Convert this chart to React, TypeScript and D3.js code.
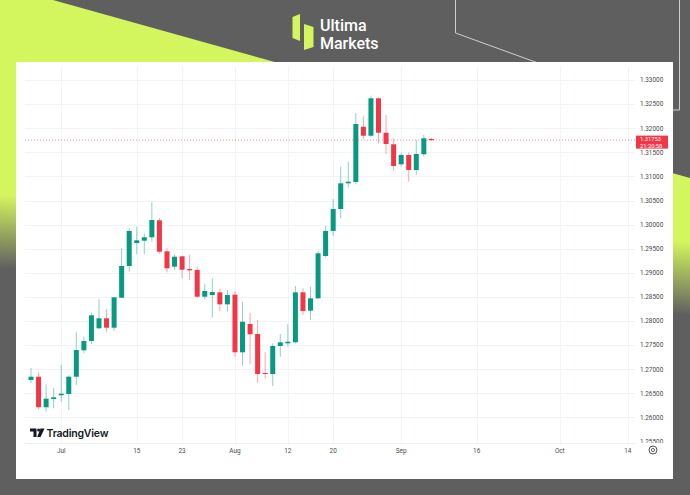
import { useEffect, useRef } from 'react';
import * as d3 from 'd3';

// GBP/USD daily candles, one per trading day
const candleDates = [
  'Jun 25', 'Jun 26', 'Jun 27', 'Jun 28',
  'Jul 1', 'Jul 2', 'Jul 3', 'Jul 4', 'Jul 5', 'Jul 8', 'Jul 9', 'Jul 10', 'Jul 11', 'Jul 12',
  'Jul 15', 'Jul 16', 'Jul 17', 'Jul 18', 'Jul 19', 'Jul 22', 'Jul 23', 'Jul 24', 'Jul 25', 'Jul 26',
  'Jul 29', 'Jul 30', 'Jul 31',
  'Aug 1', 'Aug 2', 'Aug 5', 'Aug 6', 'Aug 7', 'Aug 8', 'Aug 9', 'Aug 12', 'Aug 13', 'Aug 14',
  'Aug 15', 'Aug 16', 'Aug 19', 'Aug 20', 'Aug 21', 'Aug 22', 'Aug 23', 'Aug 26', 'Aug 27', 'Aug 28',
  'Aug 29', 'Aug 30',
  'Sep 2', 'Sep 3', 'Sep 4', 'Sep 5', 'Sep 6',
];

const openValues = [
  1.26776, 1.26844, 1.26210, 1.26382, 1.26459, 1.26485, 1.26844, 1.27392, 1.27585, 1.27849,
  1.28056, 1.27861, 1.28483, 1.29141, 1.29618, 1.29666, 1.29737, 1.30089, 1.29446, 1.29127,
  1.29342, 1.29079, 1.29058, 1.28504, 1.28539, 1.28595, 1.28346, 1.28546, 1.27351, 1.27938,
  1.27730, 1.26921, 1.26900, 1.27481, 1.27537, 1.27558, 1.28595, 1.28214, 1.28471, 1.29349,
  1.29867, 1.30324, 1.30857, 1.30884, 1.32031, 1.31844, 1.32620, 1.31906, 1.31666, 1.31251,
  1.31444, 1.31133, 1.31459, 1.31776,
];

const highValues = [
  1.27025, 1.26927, 1.26687, 1.26610, 1.27093, 1.26873, 1.27766, 1.27674, 1.28172, 1.28456,
  1.28249, 1.28504, 1.29508, 1.29923, 1.29956, 1.29820, 1.30463, 1.30131, 1.29508, 1.29384,
  1.29355, 1.29369, 1.29127, 1.28774, 1.28886, 1.28664, 1.28643, 1.28622, 1.28400, 1.28172,
  1.28021, 1.27351, 1.27537, 1.27730, 1.27938, 1.28726, 1.28678, 1.28712, 1.29459, 1.29977,
  1.30531, 1.31201, 1.31305, 1.32309, 1.32239, 1.32674, 1.32647, 1.32274, 1.31790, 1.31492,
  1.31492, 1.31755, 1.31859, 1.31803,
];

const lowValues = [
  1.26714, 1.26168, 1.26118, 1.26189, 1.26326, 1.26154, 1.26672, 1.27330, 1.27523, 1.27828,
  1.27778, 1.27793, 1.28471, 1.29023, 1.29384, 1.29384, 1.29645, 1.29396, 1.29010, 1.29058,
  1.28886, 1.28851, 1.28483, 1.28456, 1.28068, 1.28208, 1.28193, 1.27259, 1.27073, 1.27102,
  1.26720, 1.26811, 1.26651, 1.27259, 1.27467, 1.27537, 1.28124, 1.28021, 1.28450, 1.29322,
  1.29763, 1.30131, 1.30774, 1.30836, 1.31770, 1.31811, 1.31687, 1.31465, 1.31118, 1.31201,
  1.30890, 1.31029, 1.31409, 1.31728,
];

const closeValues = [
  1.26844, 1.26210, 1.26388, 1.26417, 1.26492, 1.26844, 1.27398, 1.27585, 1.28118, 1.28056,
  1.27861, 1.28492, 1.29141, 1.29867, 1.29674, 1.29737, 1.30095, 1.29438, 1.29093, 1.29334,
  1.29064, 1.29052, 1.28504, 1.28622, 1.28602, 1.28346, 1.28539, 1.27351, 1.27985, 1.27724,
  1.26900, 1.26900, 1.27481, 1.27558, 1.27571, 1.28595, 1.28208, 1.28471, 1.29405, 1.29867,
  1.30324, 1.30857, 1.30890, 1.32087, 1.31844, 1.32620, 1.31906, 1.31672, 1.31216, 1.31444,
  1.31133, 1.31465, 1.31790, 1.31753,
];

const priceTicks = [
  1.255, 1.26, 1.265, 1.27, 1.275, 1.28, 1.285, 1.29, 1.295, 1.3, 1.305, 1.31, 1.315, 1.32, 1.325, 1.33,
];

// time axis: label and trading-day slot (0 = first candle)
const timeTickLabels = ['Jul', '15', '23', 'Aug', '12', '20', 'Sep', '16', 'Oct', '14'];
const timeTickSlots = [4, 14, 20, 27, 34, 40, 49, 59, 70, 79];

const lastPrice = 1.31753;
const countdown = '21:20:58';

const UP = '#089981';
const DOWN = '#F23645';
const LIME = '#d3f55e';
const BG = '#5f5f5f';

export default function App() {
  const svgRef = useRef<SVGSVGElement>(null);

  useEffect(() => {
    if (!svgRef.current) return;
    const svg = d3.select(svgRef.current);
    svg.selectAll('*').remove();

    const width = 690;
    const height = 495;
    const panel = { left: 16, top: 62, right: 673, bottom: 479 };
    const plot = { left: 25, right: 635, top: 66, bottom: 443 };

    const x = d3.scaleLinear().domain([0, 79]).range([31, 627.8]);
    const y = d3.scaleLinear().domain([1.255, 1.33]).range([441.5, 80]);

    // background
    const defs = svg.append('defs');
    const grad = defs.append('linearGradient')
      .attr('id', 'limeFade')
      .attr('gradientUnits', 'userSpaceOnUse')
      .attr('x1', 0).attr('y1', 195)
      .attr('x2', -5).attr('y2', 268);
    grad.append('stop').attr('offset', 0).attr('stop-color', LIME);
    grad.append('stop').attr('offset', 1).attr('stop-color', BG);

    svg.append('rect').attr('width', width).attr('height', height).attr('fill', BG);
    svg.append('path')
      .attr('d', 'M0,0 L53,0 L690,178 L690,495 L0,495 Z')
      .attr('fill', 'url(#limeFade)');

    // thin outline strokes top-right
    const outline = svg.append('g').attr('fill', 'none').attr('stroke', '#cfcfcf').attr('stroke-width', 1);
    outline.append('path').attr('d', 'M455.5,0 L455.5,33 L560,71');
    outline.append('path').attr('d', 'M679.5,0 L679.5,110 L668,110');

    // brand logo
    const logo = svg.append('g');
    logo.append('path').attr('d', 'M292.5,17 L300,14 L300,41 L292.5,38 Z').attr('fill', LIME);
    logo.append('path').attr('d', 'M304,24 L313.5,27 L313.5,47 L304,50 Z').attr('fill', LIME);
    logo.append('text')
      .attr('x', 320).attr('y', 30.5)
      .attr('font-family', 'Roboto, Inter, sans-serif')
      .attr('font-size', 16).attr('font-weight', 500)
      .attr('fill', '#ffffff')
      .text('Ultima');
    logo.append('text')
      .attr('x', 320).attr('y', 48.5)
      .attr('font-family', 'Roboto, Inter, sans-serif')
      .attr('font-size', 16).attr('font-weight', 500)
      .attr('fill', '#ffffff')
      .text('Markets');

    // white chart panel
    svg.append('rect')
      .attr('x', panel.left).attr('y', panel.top)
      .attr('width', panel.right - panel.left)
      .attr('height', panel.bottom - panel.top)
      .attr('fill', '#ffffff');

    // grid
    const grid = svg.append('g').attr('stroke', '#f0f3fa').attr('stroke-width', 1);
    grid.selectAll('.hg')
      .data(priceTicks.filter(p => p > 1.256))
      .enter()
      .append('line')
      .attr('x1', plot.left).attr('x2', plot.right)
      .attr('y1', d => Math.round(y(d)) + 0.5)
      .attr('y2', d => Math.round(y(d)) + 0.5);
    grid.selectAll('.vg')
      .data(timeTickSlots)
      .enter()
      .append('line')
      .attr('y1', plot.top).attr('y2', plot.bottom)
      .attr('x1', d => Math.round(x(d)) + 0.5)
      .attr('x2', d => Math.round(x(d)) + 0.5);
    svg.append('line')
      .attr('x1', plot.left).attr('x2', plot.right)
      .attr('y1', plot.bottom + 0.5).attr('y2', plot.bottom + 0.5)
      .attr('stroke', '#eceff5');

    // last price line
    svg.append('line')
      .attr('x1', plot.left).attr('x2', 636)
      .attr('y1', y(lastPrice)).attr('y2', y(lastPrice))
      .attr('stroke', DOWN).attr('stroke-opacity', 0.55)
      .attr('stroke-dasharray', '1,2');

    // candles
    const candles = svg.append('g')
      .selectAll('g')
      .data(candleDates.map((d, i) => ({
        date: d, i,
        o: openValues[i], h: highValues[i], l: lowValues[i], c: closeValues[i],
      })))
      .enter()
      .append('g');

    const bodyW = 5;
    candles.append('line')
      .attr('x1', d => x(d.i)).attr('x2', d => x(d.i))
      .attr('y1', d => y(d.h)).attr('y2', d => y(d.l))
      .attr('stroke', d => (d.c >= d.o ? UP : DOWN))
      .attr('stroke-opacity', 0.45)
      .attr('stroke-width', 1);
    candles.append('rect')
      .attr('x', d => x(d.i) - bodyW / 2)
      .attr('width', bodyW)
      .attr('y', d => y(Math.max(d.o, d.c)))
      .attr('height', d => Math.max(1, Math.abs(y(d.o) - y(d.c))))
      .attr('fill', d => (d.c >= d.o ? UP : DOWN));

    // price axis labels (clipped at plot bottom)
    defs.append('clipPath').attr('id', 'axisClip')
      .append('rect').attr('x', 630).attr('y', plot.top).attr('width', 43).attr('height', plot.bottom - plot.top);
    svg.append('g')
      .attr('clip-path', 'url(#axisClip)')
      .selectAll('text')
      .data(priceTicks)
      .enter()
      .append('text')
      .attr('x', 640)
      .attr('y', d => y(d) + 2.3)
      .attr('font-family', 'Roboto, sans-serif')
      .attr('font-size', 6.4)
      .attr('fill', '#4a4a4a')
      .text(d => d3.format('.5f')(d));

    // last price tag
    const tagY = y(lastPrice);
    svg.append('rect')
      .attr('x', 636).attr('y', tagY - 4.5)
      .attr('width', 32).attr('height', 13)
      .attr('fill', DOWN);
    svg.append('text')
      .attr('x', 640).attr('y', tagY + 1.0)
      .attr('font-family', 'Roboto, sans-serif')
      .attr('font-size', 5.8).attr('fill', '#ffffff')
      .text(d3.format('.5f')(lastPrice));
    svg.append('text')
      .attr('x', 640).attr('y', tagY + 7.8)
      .attr('font-family', 'Roboto, sans-serif')
      .attr('font-size', 5.8).attr('fill', '#ffffff')
      .text(countdown);

    // time axis labels
    svg.append('g')
      .selectAll('text')
      .data(timeTickLabels)
      .enter()
      .append('text')
      .attr('x', (_, i) => x(timeTickSlots[i]))
      .attr('y', 452.5)
      .attr('text-anchor', 'middle')
      .attr('font-family', 'Roboto, sans-serif')
      .attr('font-size', 6.4)
      .attr('fill', '#4a4a4a')
      .text(d => d);

    // settings gear
    svg.append('circle').attr('cx', 653).attr('cy', 450).attr('r', 4)
      .attr('fill', 'none').attr('stroke', '#555').attr('stroke-width', 1);
    svg.append('circle').attr('cx', 653).attr('cy', 450).attr('r', 1.6)
      .attr('fill', 'none').attr('stroke', '#555').attr('stroke-width', 0.9);

    // TradingView watermark
    const tv = svg.append('g').attr('fill', '#131722');
    tv.append('path').attr('d', 'M30,428.5 L36.5,428.5 L36.5,437 L33.5,437 L33.5,431.5 L30,431.5 Z');
    tv.append('circle').attr('cx', 38.6).attr('cy', 430).attr('r', 1.5);
    tv.append('path').attr('d', 'M40.5,428.5 L44.5,428.5 L40.6,437 L37.2,437 Z');
    tv.append('text')
      .attr('x', 46.5).attr('y', 436.5)
      .attr('font-family', 'Inter, Roboto, sans-serif')
      .attr('font-size', 10.5).attr('font-weight', 600)
      .attr('letter-spacing', -0.2)
      .text('TradingView');
  }, []);

  return (
    <svg
      ref={svgRef}
      width={690}
      height={495}
      style={{ position: 'absolute', left: 0, top: 0, display: 'block' }}
    />
  );
}
